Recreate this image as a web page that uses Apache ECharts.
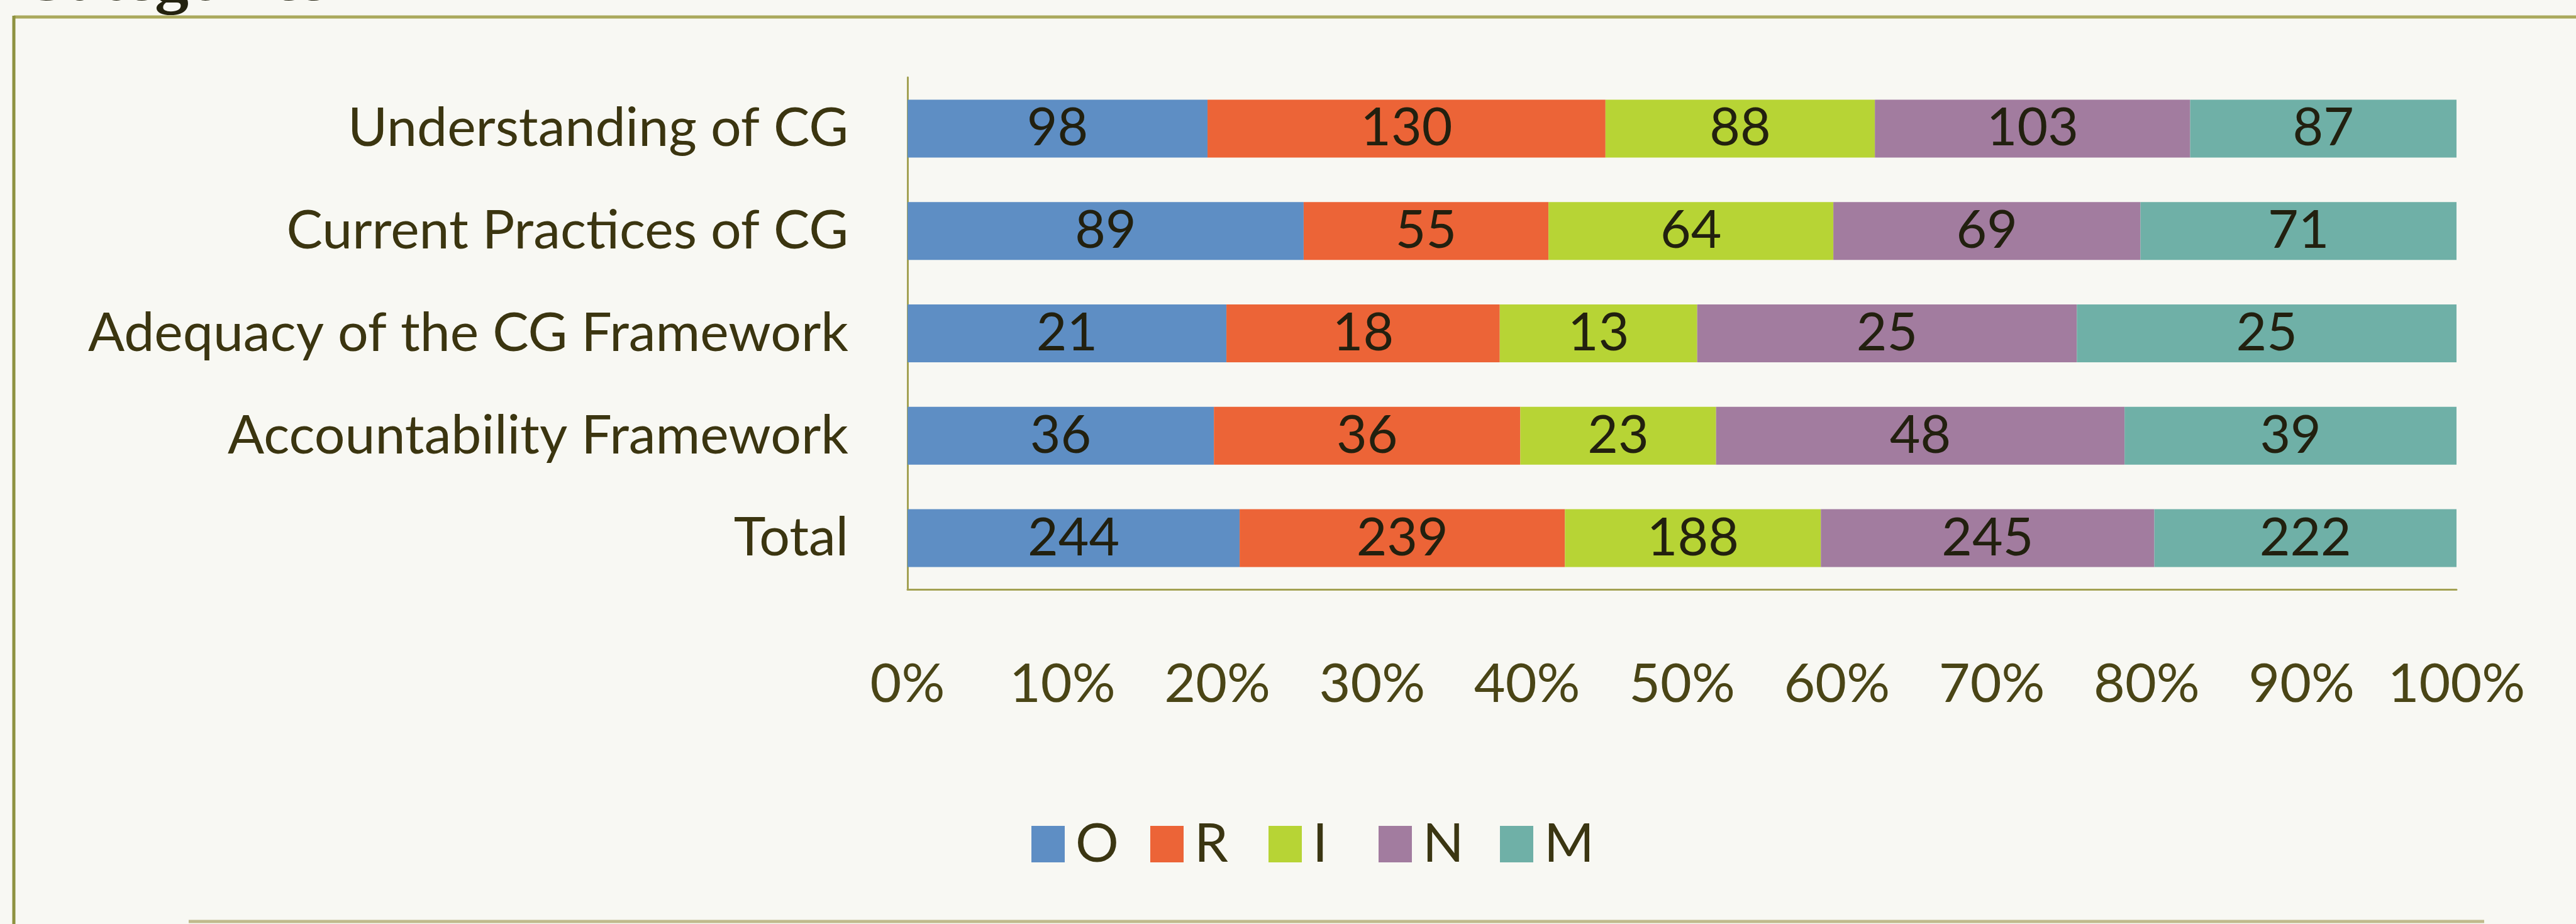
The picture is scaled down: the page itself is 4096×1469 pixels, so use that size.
<!DOCTYPE html>
<html>
<head>
<meta charset="utf-8">
<title>CG Categories</title>
<script src="https://cdn.jsdelivr.net/npm/echarts@6/dist/echarts.min.js"></script>
<style>
  html, body { margin: 0; padding: 0; background: #f8f8f3; }
  #chart { width: 4096px; height: 1469px; }
</style>
</head>
<body>
<div id="chart"></div>
<script>
// Row categories, top to bottom
const categories = [
  'Understanding of CG',
  'Current Practices of CG',
  'Adequacy of the CG Framework',
  'Accountability Framework',
  'Total'
];

// Response groups
const seriesNames = ['O', 'R', 'I', 'N', 'M'];

// Counts per response group, one entry per category
const oValues = [98, 89, 21, 36, 244];
const rValues = [130, 55, 18, 36, 239];
const iValues = [88, 64, 13, 23, 188];
const nValues = [103, 69, 25, 48, 245];
const mValues = [87, 71, 25, 39, 222];

// Value axis tick labels (0..100 step 10)
const tickLabels = ['0%', '10%', '20%', '30%', '40%', '50%', '60%', '70%', '80%', '90%', '100%'];

const seriesColors = ['#5e8ec4', '#ec6437', '#b7d435', '#a27c9f', '#6fb0a7'];

// Left edge of each legend entry
const legendLefts = [1640, 1829, 2017, 2192, 2385];

const valueSets = [oValues, rValues, iValues, nValues, mValues];
const rowTotals = categories.map((_, i) => valueSets.reduce((s, arr) => s + arr[i], 0));

const chart = echarts.init(document.getElementById('chart'), null, { renderer: 'canvas' });

const labelFont = 'Lato, "Noto Sans", sans-serif';
const olive = '#a3a152';

const option = {
  backgroundColor: '#f8f8f3',
  animation: false,
  grid: { left: 1443, right: 190, top: 123, bottom: 532 },
  // one legend block per entry so each sits at its own position
  legend: seriesNames.map((name, si) => ({
    data: [name],
    left: legendLefts[si],
    top: 1299,
    orient: 'horizontal',
    icon: 'rect',
    itemWidth: 53,
    itemHeight: 58,
    padding: 0,
    selectedMode: false,
    textStyle: {
      fontFamily: labelFont,
      fontSize: 86,
      color: '#3b3612',
      padding: [0, 0, 0, 12]
    }
  })),
  xAxis: {
    type: 'value',
    min: 0,
    max: 100,
    interval: 10,
    axisLine: { show: true, lineStyle: { color: olive, width: 3 } },
    axisTick: { show: false },
    splitLine: { show: false },
    axisLabel: {
      margin: 108,
      fontFamily: labelFont,
      fontSize: 86,
      color: '#4a4516',
      formatter: (v) => tickLabels[Math.round(v / 10)]
    }
  },
  yAxis: {
    type: 'category',
    data: categories,
    inverse: true,
    axisLine: { show: true, lineStyle: { color: olive, width: 3 } },
    axisTick: { show: false },
    splitLine: { show: false },
    axisLabel: {
      margin: 94,
      fontFamily: labelFont,
      fontSize: 86,
      color: '#3b3510'
    }
  },
  series: seriesNames.map((name, si) => ({
    name: name,
    type: 'bar',
    stack: 'share',
    barWidth: 92,
    itemStyle: { color: seriesColors[si] },
    label: {
      show: true,
      position: 'inside',
      fontFamily: labelFont,
      fontSize: 84,
      color: '#22200f',
      formatter: (p) => String(valueSets[si][p.dataIndex])
    },
    data: valueSets[si].map((v, i) => v / rowTotals[i] * 100)
  })),
  graphic: [
    // page frame
    { type: 'line', shape: { x1: 22, y1: 27, x2: 4096, y2: 27 }, style: { stroke: '#aaa95c', lineWidth: 5 }, z: 0 },
    { type: 'line', shape: { x1: 22, y1: 25, x2: 22, y2: 1469 }, style: { stroke: '#8e9240', lineWidth: 5 }, z: 0 },
    { type: 'line', shape: { x1: 300, y1: 1465, x2: 3950, y2: 1465 }, style: { stroke: '#a8a060', lineWidth: 5, opacity: 0.7 }, z: 0 },
    // section heading, cut off at the top edge
    {
      type: 'text',
      x: 30,
      y: 26,
      style: {
        text: 'Categories',
        font: 'bold 108px "Liberation Serif", serif',
        fill: '#23220f',
        verticalAlign: 'bottom'
      },
      z: 1
    }
  ]
};

chart.setOption(option);
</script>
</body>
</html>
